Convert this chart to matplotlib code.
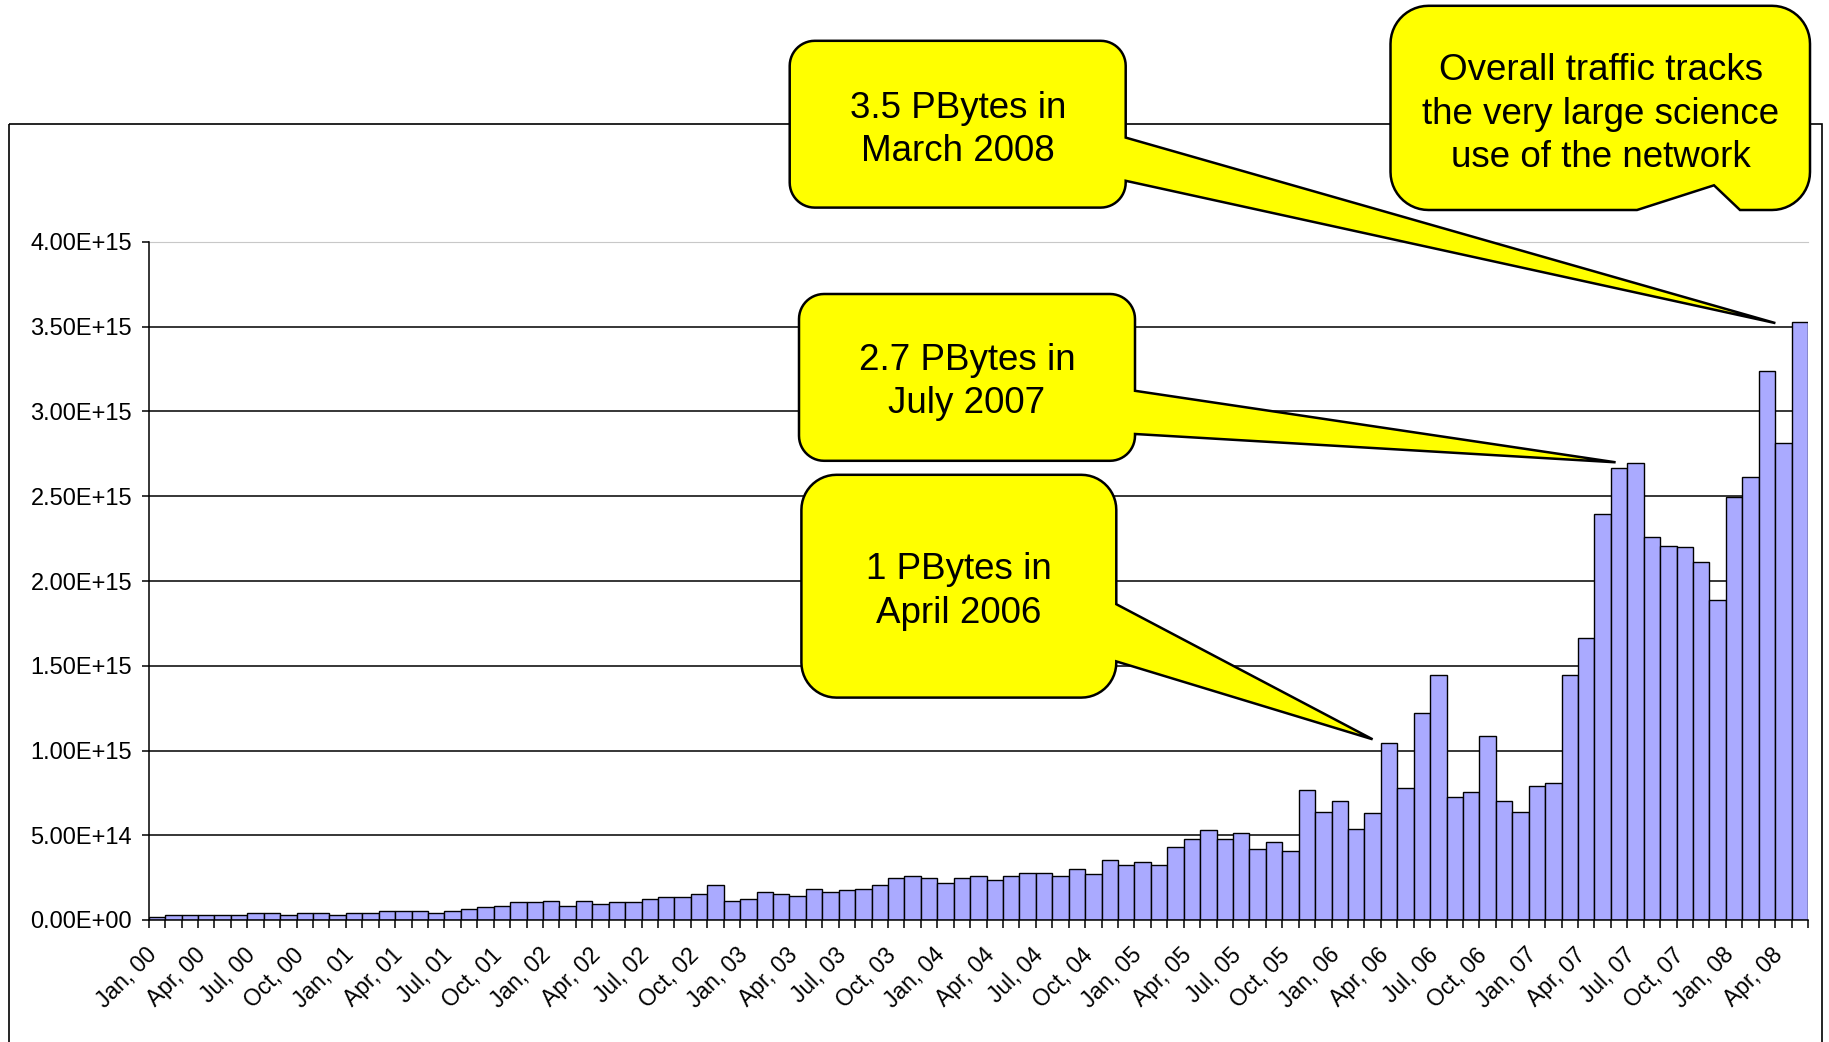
import matplotlib
matplotlib.use('Agg')
import matplotlib.pyplot as plt
from matplotlib.patches import Polygon, Rectangle
from matplotlib.ticker import FuncFormatter
from matplotlib.transforms import ScaledTranslation
import numpy as np

plt.rcParams['font.family'] = ['Liberation Sans', 'DejaVu Sans']

# Monthly accepted traffic, Jan 2000 .. May 2008, in PBytes (1e15 bytes)
traffic_pb = [
    0.020, 0.030, 0.030, 0.030, 0.030, 0.030, 0.043, 0.043, 0.030, 0.043, 0.043, 0.030,  # 2000
    0.043, 0.043, 0.053, 0.053, 0.053, 0.040, 0.053, 0.063, 0.075, 0.084, 0.104, 0.104,  # 2001
    0.114, 0.084, 0.114, 0.092, 0.104, 0.104, 0.124, 0.133, 0.133, 0.155, 0.208, 0.114,  # 2002
    0.124, 0.165, 0.155, 0.143, 0.184, 0.165, 0.175, 0.184, 0.208, 0.247, 0.259, 0.247,  # 2003
    0.218, 0.247, 0.259, 0.237, 0.259, 0.278, 0.278, 0.259, 0.300, 0.271, 0.353, 0.322,  # 2004
    0.341, 0.322, 0.429, 0.478, 0.533, 0.475, 0.515, 0.420, 0.461, 0.410, 0.768, 0.640,  # 2005
    0.705, 0.535, 0.630, 1.042, 0.778, 1.220, 1.446, 0.725, 0.756, 1.083, 0.705, 0.640,  # 2006
    0.788, 0.808, 1.446, 1.665, 2.395, 2.665, 2.699, 2.260, 2.209, 2.198, 2.113, 1.885,  # 2007
    2.495, 2.614, 3.240, 2.812, 3.529,                                                   # 2008
]

tick_labels = [
    "Jan, 00", "Apr, 00", "Jul, 00", "Oct, 00",
    "Jan, 01", "Apr, 01", "Jul, 01", "Oct, 01",
    "Jan, 02", "Apr, 02", "Jul, 02", "Oct, 02",
    "Jan, 03", "Apr, 03", "Jul, 03", "Oct, 03",
    "Jan, 04", "Apr, 04", "Jul, 04", "Oct, 04",
    "Jan, 05", "Apr, 05", "Jul, 05", "Oct, 05",
    "Jan, 06", "Apr, 06", "Jul, 06", "Oct, 06",
    "Jan, 07", "Apr, 07", "Jul, 07", "Oct, 07",
    "Jan, 08", "Apr, 08",
]
tick_step = 3  # one label every quarter

y_ticks = [0.0, 0.5e15, 1.0e15, 1.5e15, 2.0e15, 2.5e15, 3.0e15, 3.5e15, 4.0e15]

callout_texts = [
    "3.5 PBytes in\nMarch 2008",
    "2.7 PBytes in\nJuly 2007",
    "1 PBytes in\nApril 2006",
    "Overall traffic tracks\nthe very large science\nuse of the network",
]

W, H = 1829, 1042
fig = plt.figure(figsize=(W / 100, H / 100), dpi=100)
fig.patch.set_facecolor('white')

ax_l, ax_r, ax_b, ax_t = 148.7, 1808.0, 920.0, 242.0
ax = fig.add_axes([ax_l / W, (H - ax_b) / H, (ax_r - ax_l) / W, (ax_b - ax_t) / H])

values = np.array(traffic_pb) * 1e15
x = np.arange(len(values))
ax.bar(x, values, width=1.0, color='#AAAAFF', edgecolor='black', linewidth=1.0, zorder=3)
ax.set_xlim(-0.5, len(values) - 0.5)
ax.set_ylim(y_ticks[0], y_ticks[-1])

for yt in y_ticks[1:-1]:
    ax.axhline(yt, color='black', lw=1.1, zorder=1)
ax.axhline(y_ticks[-1], color='#C8C8C8', lw=1.3, zorder=1)

ax.set_yticks(y_ticks)
ax.yaxis.set_major_formatter(FuncFormatter(lambda v, p: '{:.2E}'.format(v)))
ax.tick_params(axis='y', length=5, width=1.1, pad=7, labelsize=17, direction='out')

tick_pos = [i * tick_step for i in range(len(tick_labels))]
ax.set_xticks(tick_pos)
ax.set_xticklabels(tick_labels, rotation=45, ha='right', rotation_mode='anchor', fontsize=16.5)
ax.set_xticks(np.arange(-0.5, len(values)), minor=True)
ax.tick_params(axis='x', which='major', length=0, pad=17)
ax.tick_params(axis='x', which='minor', length=6, width=1.1, direction='out')
offset = ScaledTranslation(-12 / 100, 0, fig.dpi_scale_trans)
for lab in ax.get_xticklabels():
    lab.set_transform(lab.get_transform() + offset)

for s in ['left', 'bottom']:
    ax.spines[s].set_color('black')
    ax.spines[s].set_linewidth(1.1)
    ax.spines[s].set_zorder(4)
ax.spines['top'].set_color('#C8C8C8')
ax.spines['right'].set_visible(False)

# overlay in pixel coordinates for frame and callouts
ov = fig.add_axes([0, 0, 1, 1], zorder=10)
ov.set_xlim(0, W)
ov.set_ylim(H, 0)
ov.axis('off')
ov.patch.set_alpha(0)

ov.add_patch(Rectangle((9.3, 123.6), 1822 - 9.3, H - 123.6 + 30, fill=False,
                       ec='black', lw=1.2, zorder=1, clip_on=False))


def arc(cx, cy, r, t0, t1, n=14):
    t = np.radians(np.linspace(t0, t1, n))
    return list(zip(cx + r * np.cos(t), cy + r * np.sin(t)))


def callout(x0, y0, x1, y1, r, right_wedge=None, bottom_notch=None):
    pts = []
    pts += [(x0 + r, y0), (x1 - r, y0)]
    pts += arc(x1 - r, y0 + r, r, -90, 0)
    if right_wedge is not None:
        ya, yb, tip = right_wedge
        pts += [(x1, ya), tip, (x1, yb)]
    pts += [(x1, y1 - r)]
    pts += arc(x1 - r, y1 - r, r, 0, 90)
    if bottom_notch is not None:
        pts += bottom_notch
    pts += [(x0 + r, y1)]
    pts += arc(x0 + r, y1 - r, r, 90, 180)
    pts += [(x0, y0 + r)]
    pts += arc(x0 + r, y0 + r, r, 180, 270)
    return Polygon(pts, closed=True, fc='#FFFF00', ec='black', lw=1.8, zorder=5,
                   joinstyle='miter')


boxes = [
    dict(box=(789.7, 40.8, 1125.7, 207.6), r=25, wedge=(137.6, 180.8, (1775.4, 323.1)),
         center=(957.7, 130.0)),
    dict(box=(799.0, 294.0, 1135.0, 460.8), r=25, wedge=(390.8, 434.0, (1615.6, 462.3)),
         center=(967.0, 382.0)),
    dict(box=(801.4, 474.8, 1116.3, 697.6), r=35, wedge=(604.2, 661.4, (1372.6, 739.3)),
         center=(958.9, 591.5)),
    dict(box=(1390.5, 5.8, 1810.0, 210.0), r=38, notch=[(1740, 210), (1714, 185.3), (1637, 210)],
         center=(1601.0, 114.0)),
]

for b, txt in zip(boxes, callout_texts):
    x0, y0, x1, y1 = b['box']
    ov.add_patch(callout(x0, y0, x1, y1, b['r'], right_wedge=b.get('wedge'),
                         bottom_notch=b.get('notch')))
    ov.text(b['center'][0], b['center'][1], txt, ha='center', va='center',
            fontsize=26.5, linespacing=1.3, zorder=6)

fig.savefig('out.png', dpi=100, facecolor='white')
